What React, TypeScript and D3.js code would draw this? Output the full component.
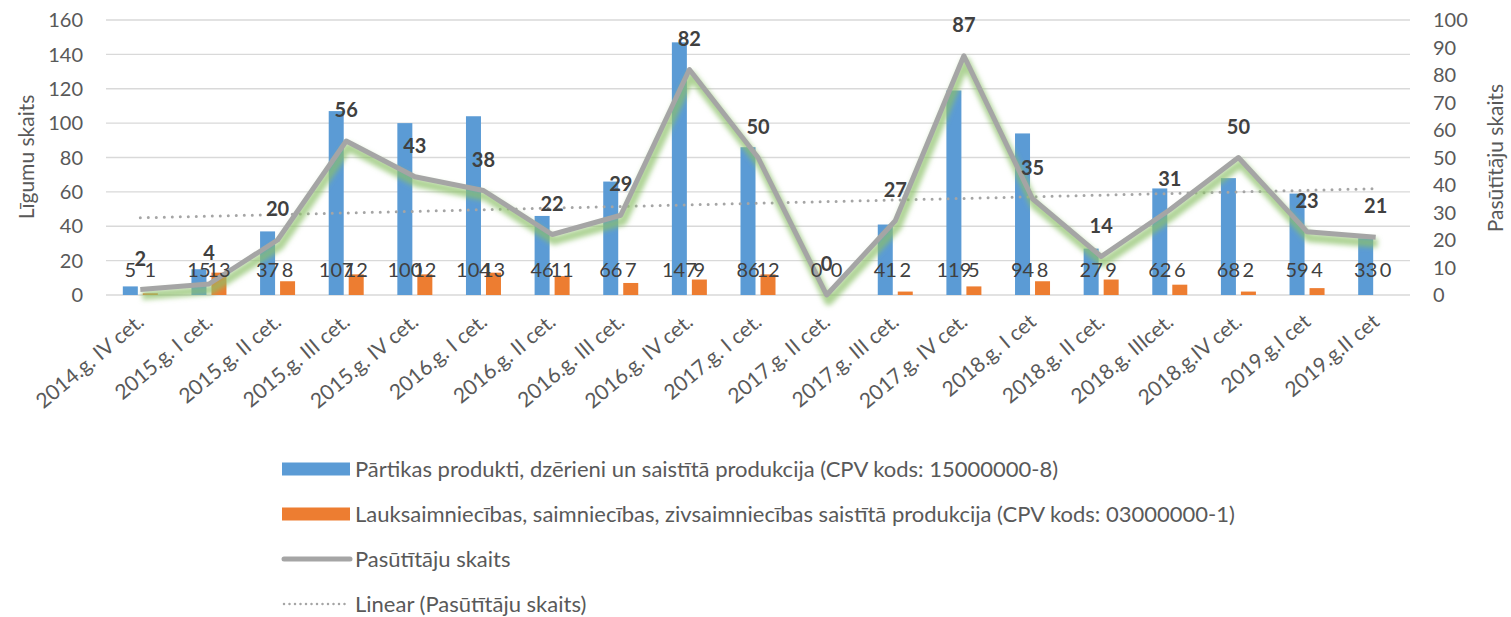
import * as d3 from "d3"

const categories = [
  "2014.g. IV cet.",
  "2015.g. I cet.",
  "2015.g. II cet.",
  "2015.g. III cet.",
  "2015.g. IV cet.",
  "2016.g. I cet.",
  "2016.g. II cet.",
  "2016.g. III cet.",
  "2016.g. IV cet.",
  "2017.g. I cet.",
  "2017.g. II cet.",
  "2017.g. III cet.",
  "2017.g. IV cet.",
  "2018.g. I cet",
  "2018.g. II cet.",
  "2018.g. IIIcet.",
  "2018.g.IV cet.",
  "2019.g.I cet",
  "2019.g.II cet",
]

const foodContracts = [5, 15, 37, 107, 100, 104, 46, 66, 147, 86, 0, 41, 119, 94, 27, 62, 68, 59, 33]
const agriContracts = [1, 13, 8, 12, 12, 13, 11, 7, 9, 12, 0, 2, 5, 8, 9, 6, 2, 4, 0]
const customers = [2, 4, 20, 56, 43, 38, 22, 29, 82, 50, 0, 27, 87, 35, 14, 31, 50, 23, 21]

const leftTicks = [0, 20, 40, 60, 80, 100, 120, 140, 160]
const rightTicks = [0, 10, 20, 30, 40, 50, 60, 70, 80, 90, 100]

const legendLabels = [
  "Pārtikas produkti, dzērieni un saistītā produkcija (CPV kods: 15000000-8)",
  "Lauksaimniecības, saimniecības, zivsaimniecības saistītā produkcija (CPV kods: 03000000-1)",
  "Pasūtītāju skaits",
  "Linear (Pasūtītāju skaits)",
]

const W = 1511
const H = 617
const FONT = "Lato, 'Noto Sans', sans-serif"
const BLUE = "#5b9bd5"
const ORANGE = "#ed7d31"
const GREY = "#a5a5a5"

const App = () => {
  const x = d3.scaleBand<string>().domain(categories).range([106, 1410])
  const x1 = d3.scaleBand<string>().domain(["food", "agri"]).range([-17.5, 17.5]).paddingInner(0.25)
  const yL = d3.scaleLinear().domain([0, 160]).range([295, 20])
  const yR = d3.scaleLinear().domain([0, 100]).range([295, 20])
  const cx = (c: string) => (x(c) as number) + x.bandwidth() / 2

  const line = d3
    .line<number>()
    .x((_, i) => cx(categories[i]))
    .y((d) => yR(d))

  // linear trend of customers (least squares over index)
  const n = customers.length
  const xs = d3.range(1, n + 1)
  const mx = d3.mean(xs) as number
  const my = d3.mean(customers) as number
  const slope =
    d3.sum(xs, (v, i) => (v - mx) * (customers[i] - my)) / d3.sum(xs, (v) => (v - mx) * (v - mx))
  const icpt = my - slope * mx
  const trend = xs.map((v) => icpt + slope * v)

  const legendY = d3.scalePoint<number>().domain([0, 1, 2, 3]).range([469, 604])

  return (
    <svg width={W} height={H} style={{ position: "absolute", left: 0, top: 0, background: "#fff" }} fontFamily={FONT}>
      <defs>
        <filter id="glow" x="-10%" y="-20%" width="120%" height="140%">
          <feGaussianBlur stdDeviation="2.8" />
        </filter>
      </defs>

      {/* gridlines */}
      {leftTicks.map((t) => (
        <line key={t} x1={106} x2={1410} y1={yL(t)} y2={yL(t)} stroke="#d9d9d9" strokeWidth={1.3} />
      ))}

      {/* left axis */}
      {leftTicks.map((t) => (
        <text key={t} x={83} y={yL(t)} dy="0.36em" textAnchor="end" fontSize={20} fill="#595959">
          {t}
        </text>
      ))}
      <text
        transform={`translate(26,157) rotate(-90)`}
        textAnchor="middle"
        dy="0.36em"
        fontSize={21}
        fill="#595959"
      >
        Līgumu skaits
      </text>

      {/* right axis */}
      {rightTicks.map((t) => (
        <text key={t} x={1433} y={yR(t)} dy="0.36em" textAnchor="start" fontSize={20} fill="#595959">
          {t}
        </text>
      ))}
      <text
        transform={`translate(1495,158) rotate(-90)`}
        textAnchor="middle"
        dy="0.36em"
        fontSize={21}
        fill="#595959"
      >
        Pasūtītāju skaits
      </text>

      {/* bars */}
      {categories.map((c, i) => (
        <g key={c} transform={`translate(${cx(c)},0)`}>
          <rect
            x={x1("food")}
            width={x1.bandwidth()}
            y={yL(foodContracts[i])}
            height={yL(0) - yL(foodContracts[i])}
            fill={BLUE}
          />
          <rect
            x={x1("agri")}
            width={x1.bandwidth()}
            y={yL(agriContracts[i])}
            height={yL(0) - yL(agriContracts[i])}
            fill={ORANGE}
          />
        </g>
      ))}

      {/* trend */}
      <path
        d={line(trend) as string}
        fill="none"
        stroke={GREY}
        strokeWidth={3}
        strokeDasharray="0 8"
        strokeLinecap="round"
      />

      {/* glow under line */}
      <path
        d={line(customers) as string}
        transform="translate(2,6)"
        fill="none"
        stroke="#8cc168"
        strokeOpacity={0.7}
        strokeWidth={9}
        strokeLinejoin="round"
        filter="url(#glow)"
      />
      <path
        d={line(customers) as string}
        fill="none"
        stroke={GREY}
        strokeWidth={5}
        strokeLinejoin="round"
      />

      {/* bar labels */}
      {categories.map((c, i) => (
        <g key={c} transform={`translate(${cx(c)},0)`} fontSize={20} fill="#404040" textAnchor="middle">
          <text x={(x1("food") as number) + x1.bandwidth() / 2} y={277}>
            {foodContracts[i]}
          </text>
          <text x={(x1("agri") as number) + x1.bandwidth() / 2} y={277}>
            {agriContracts[i]}
          </text>
        </g>
      ))}

      {/* line labels */}
      {categories.map((c, i) => (
        <text
          key={c}
          x={cx(c)}
          y={yR(customers[i]) - 24}
          textAnchor="middle"
          fontSize={20}
          fontWeight="bold"
          fill="#404040"
        >
          {customers[i]}
        </text>
      ))}

      {/* x labels */}
      {categories.map((c) => (
        <text
          key={c}
          transform={`translate(${cx(c) + 5},${324}) rotate(-40)`}
          textAnchor="end"
          fontSize={21}
          fill="#595959"
        >
          {c}
        </text>
      ))}

      {/* legend */}
      {legendLabels.map((l, i) => {
        const ly = legendY(i) as number
        return (
          <g key={l}>
            {i < 2 && <rect x={282} y={ly - 6.5} width={68} height={13} fill={i === 0 ? BLUE : ORANGE} />}
            {i === 2 && (
              <line x1={284} x2={350} y1={ly} y2={ly} stroke={GREY} strokeWidth={5} strokeLinecap="round" />
            )}
            {i === 3 && (
              <line
                x1={284}
                x2={350}
                y1={ly}
                y2={ly}
                stroke={GREY}
                strokeWidth={2.5}
                strokeDasharray="0 5.5"
                strokeLinecap="round"
              />
            )}
            <text x={355} y={ly} dy="0.36em" fontSize={22} fill="#595959">
              {l}
            </text>
          </g>
        )
      })}
    </svg>
  )
}

export default App
